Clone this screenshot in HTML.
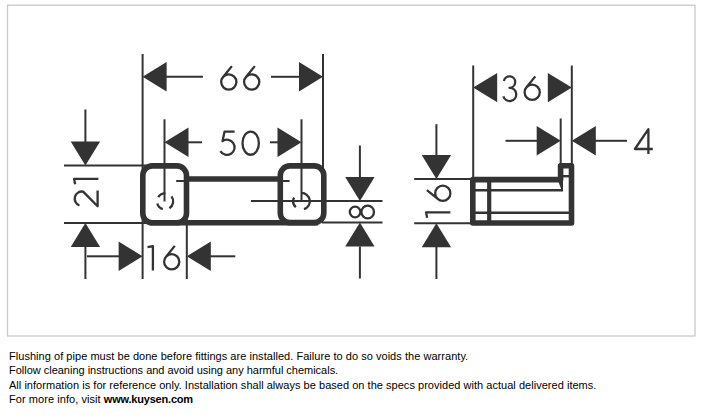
<!DOCTYPE html>
<html><head><meta charset="utf-8"><style>
html,body{margin:0;padding:0;background:#fff;}
body{width:709px;height:415px;position:relative;overflow:hidden;}
.t{position:absolute;left:9px;font-family:"Liberation Sans",sans-serif;font-size:11px;color:#000;white-space:nowrap;line-height:14px;}
.t b{font-weight:bold;}
</style></head><body>
<svg width="709" height="415" viewBox="0 0 709 415" style="position:absolute;left:0;top:0">
<rect x="7.5" y="5.2" width="687.5" height="330.8" fill="none" stroke="#c9c9c9" stroke-width="1.3"/>
<g stroke="#333" stroke-width="2" stroke-linecap="butt" fill="none"><line x1="142.6" y1="54" x2="142.6" y2="185"/><line x1="323" y1="54" x2="323" y2="185"/><line x1="166" y1="76.8" x2="203" y2="76.8"/><line x1="271" y1="76.8" x2="300" y2="76.8"/><line x1="164.5" y1="119.3" x2="164.5" y2="201.5"/><line x1="301.5" y1="119.3" x2="301.5" y2="201"/><line x1="188" y1="142.3" x2="202" y2="142.3"/><line x1="270" y1="142.3" x2="278" y2="142.3"/><line x1="85.4" y1="109.5" x2="85.4" y2="142"/><line x1="64" y1="165.6" x2="156" y2="165.6"/><line x1="64" y1="223" x2="156" y2="223"/><line x1="85.4" y1="246" x2="85.4" y2="279"/><line x1="142.6" y1="205" x2="142.6" y2="279"/><line x1="186.8" y1="205" x2="186.8" y2="279"/><line x1="87" y1="256.3" x2="119" y2="256.3"/><line x1="210" y1="256.3" x2="235.3" y2="256.3"/><line x1="359.9" y1="145.5" x2="359.9" y2="177.5"/><line x1="359.9" y1="246.5" x2="359.9" y2="278.5"/><line x1="251" y1="201" x2="382.5" y2="201"/><line x1="322" y1="222.6" x2="382.5" y2="222.6"/><line x1="176.2" y1="181" x2="188" y2="181"/><line x1="279" y1="181" x2="289.6" y2="181"/><line x1="473.2" y1="65.5" x2="473.2" y2="179"/><line x1="571.8" y1="65.5" x2="571.8" y2="165"/><line x1="560.7" y1="118.5" x2="560.7" y2="165"/><line x1="505.5" y1="140.8" x2="537" y2="140.8"/><line x1="595" y1="140.8" x2="627" y2="140.8"/><line x1="436.4" y1="124.2" x2="436.4" y2="156"/><line x1="436.4" y1="246.5" x2="436.4" y2="279"/><line x1="414.2" y1="178.9" x2="471" y2="178.9"/><line x1="414.2" y1="223.2" x2="471" y2="223.2"/></g>
<g fill="#333" stroke="none"><polygon points="142.6,76.8 166.6,62.1 166.6,91.5"/><polygon points="323,76.8 299,62.1 299,91.5"/><polygon points="164.5,142.3 188.5,127.6 188.5,157"/><polygon points="301.5,142.3 277.5,127.6 277.5,157"/><polygon points="85.4,165.6 70.7,141.6 100.1,141.6"/><polygon points="85.4,223 70.7,247 100.1,247"/><polygon points="142.6,256.3 118.6,241.6 118.6,271"/><polygon points="186.8,256.3 210.8,241.6 210.8,271"/><polygon points="359.9,201 345.2,177 374.6,177"/><polygon points="359.9,222.6 345.2,246.6 374.6,246.6"/><polygon points="473.2,87.6 497.2,72.9 497.2,102.3"/><polygon points="571.8,87.6 547.8,72.9 547.8,102.3"/><polygon points="560.7,140.8 536.7,126.1 536.7,155.5"/><polygon points="571.8,140.8 595.8,126.1 595.8,155.5"/><polygon points="436.4,179 421.7,155 451.1,155"/><polygon points="436.4,223.2 421.7,247.2 451.1,247.2"/></g>
<g stroke="#333" stroke-width="5.6" fill="none" stroke-linejoin="round"><rect x="142.8" y="165.9" width="43.7" height="56.8" rx="9.5"/><rect x="280.3" y="165.9" width="43.5" height="56.7" rx="9.5"/><line x1="186" y1="179" x2="281" y2="179"/><line x1="150" y1="222.8" x2="318" y2="222.8"/><path d="M472.8 179.6H560.6V165.7H571.5V223H472.8Z"/></g>
<g stroke="#333" stroke-width="4.2" fill="none"><line x1="489.2" y1="180" x2="489.2" y2="222.5"/></g>
<g stroke="#333" stroke-width="2.4" fill="none"><line x1="474" y1="190.3" x2="562" y2="190.3"/><line x1="474" y1="212.7" x2="570" y2="212.7"/><line x1="562" y1="176.2" x2="570" y2="176.2"/></g>
<polygon points="558,180.5 563,180.5 563,191.5 562,191.5" fill="#333"/>
<g stroke="#333" stroke-width="2.3" fill="none"><path d="M158.23 197.11A8.1 8.1 0 0 1 165.38 193.3"/><path d="M171.48 196.41A8.1 8.1 0 0 1 169.39 208.27"/><path d="M162.73 209.15A8.1 8.1 0 0 1 157.28 203.5"/><path d="M301.21 192.91A8.3 8.3 0 0 1 303.93 209.14"/><path d="M295.84 207.27A8.3 8.3 0 0 1 294.04 197.56"/></g>
<g stroke="#333" stroke-width="2.3" fill="none" stroke-linejoin="round"><path transform="translate(219.8 65.2)" d="M12.1 0.9L3.09 12.02M16.6 16.8A7.6 7.6 0 1 1 1.4 16.8A7.6 7.6 0 1 1 16.6 16.8"/><path transform="translate(242.7 65.2)" d="M12.1 0.9L3.09 12.02M16.6 16.8A7.6 7.6 0 1 1 1.4 16.8A7.6 7.6 0 1 1 16.6 16.8"/><path transform="translate(218 130.5)" d="M16.6 1.2H6.5L4.53 10.65A7.6 7.6 0 1 1 2.42 20.6"/><path transform="translate(241.4 130.5)" d="M17.5 12.65A8.2 11.6 0 1 1 1.1 12.65A8.2 11.6 0 1 1 17.5 12.65"/><path transform="translate(502 75.5)" d="M1.92 5.41A5.7 5.7 0 1 1 7.5 12.3A6.6 6.6 0 1 1 1.32 20.94"/><path transform="translate(523.2 75.5)" d="M12.1 0.9L3.09 12.02M16.6 16.8A7.6 7.6 0 1 1 1.4 16.8A7.6 7.6 0 1 1 16.6 16.8"/><path transform="translate(146.5 245)" d="M1 2.1L6.4 1.1V25.4"/><path transform="translate(162.7 245)" d="M12.1 0.9L3.09 12.02M16.6 16.8A7.6 7.6 0 1 1 1.4 16.8A7.6 7.6 0 1 1 16.6 16.8"/><path transform="translate(634 128.5)" d="M18.8 20.5H0.9L14.4 0.6V25.4"/><path transform="translate(73 207) rotate(-90)" d="M1.51 6.45A7.2 7.2 0 0 1 15.37 10.16L0.8 24.6H16.4"/><path transform="translate(73 185.3) rotate(-90)" d="M1 2.1L6.4 1.1V25.4"/><path transform="translate(348.9 219.6) rotate(-90)" d="M12.9 6.2A5.3 5.3 0 1 1 2.3 6.2A5.3 5.3 0 1 1 12.9 6.2M13.9 18.8A6.3 6.3 0 1 1 1.3 18.8A6.3 6.3 0 1 1 13.9 18.8"/><path transform="translate(425 218.8) rotate(-90)" d="M1 2.1L6.4 1.1V25.4"/><path transform="translate(426 202.2) rotate(-90)" d="M12.1 0.9L3.09 12.02M16.6 16.8A7.6 7.6 0 1 1 1.4 16.8A7.6 7.6 0 1 1 16.6 16.8"/></g>
</svg>
<div class="t" id="l1" style="top:348.8px;letter-spacing:0.04px">Flushing of pipe must be done before fittings are installed. Failure to do so voids the warranty.</div>
<div class="t" id="l2" style="top:363.3px;letter-spacing:-0.015px">Follow cleaning instructions and avoid using any harmful chemicals.</div>
<div class="t" id="l3" style="top:377.6px;letter-spacing:0.03px">All information is for reference only. Installation shall always be based on the specs provided with actual delivered items.</div>
<div class="t" id="l4" style="top:392.1px;letter-spacing:0.06px">For more info, visit <b style="letter-spacing:-0.2px">www.kuysen.com</b></div>
</body></html>
